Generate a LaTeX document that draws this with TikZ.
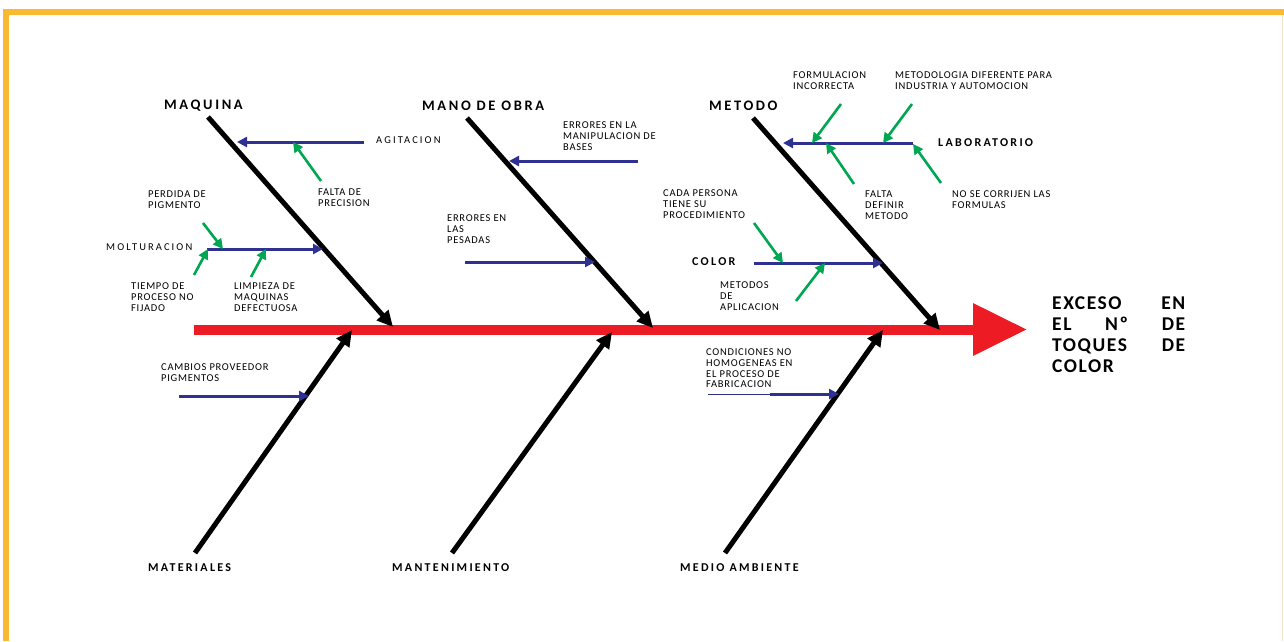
\documentclass[tikz,border=0pt]{standalone}
\usepackage{fontspec}
\setmainfont{Carlito}
\newfontfamily\smallf[LetterSpace=7]{Carlito}
\newfontfamily\widef[LetterSpace=20]{Carlito}
\newfontfamily\catf[LetterSpace=18]{Carlito Bold}
\newfontfamily\subcatf[LetterSpace=19]{Carlito Bold}
\newfontfamily\titlef[LetterSpace=8]{Carlito Bold}
\usetikzlibrary{arrows.meta}
\definecolor{fbred}{RGB}{237,28,36}
\definecolor{fbnavy}{RGB}{46,49,146}
\definecolor{fbgreen}{RGB}{0,166,81}
\definecolor{fborange}{RGB}{251,185,51}
\definecolor{fbedge}{RGB}{240,228,205}
\tikzset{
  spine/.style={draw=fbred,line width=10pt,-{Triangle[length=54pt,width=50pt]},fbred},
  bone/.style={draw=black,line width=5pt,-{Triangle[length=16pt,width=15pt]}},
  cause/.style={draw=fbnavy,line width=3pt,-{Triangle[length=10pt,width=10pt]}},
  thincause/.style={draw=fbnavy,line width=1pt},
  subcause/.style={draw=fbgreen,line width=2.6pt,-{Triangle[length=10pt,width=10pt]}},
  lbl/.style={anchor=north west,inner sep=0pt,align=left,font=\smallf\fontsize{10.5}{10.8}\selectfont},
  widelbl/.style={anchor=north west,inner sep=0pt,font=\widef\fontsize{10.5}{10.8}\selectfont},
  catlbl/.style={anchor=north west,inner sep=0pt,font=\catf\fontsize{14.5}{16}\selectfont},
  subcatlbl/.style={anchor=north west,inner sep=0pt,font=\subcatf\fontsize{12}{14}\selectfont},
  titlelbl/.style={anchor=north west,inner sep=0pt,align=left,font=\titlef\fontsize{19.5}{21}\selectfont}
}
\begin{document}
\begin{tikzpicture}[x=1pt,y=-1pt]
\useasboundingbox (0,0) rectangle (1284,641);
% frame
\fill[fborange] (3,9) rectangle (1284,15);
\fill[fborange] (3,9) rectangle (9,641);
\draw[fbedge,line width=1pt] (1282,15) -- (1282,641);
% coordinates
\coordinate (sp0) at (194,329.5);
\coordinate (sp1) at (1027,329.5);
\coordinate (b1s) at (208,117); \coordinate (b1e) at (393,327);
\coordinate (b2s) at (467,118); \coordinate (b2e) at (653,328);
\coordinate (b3s) at (753,118); \coordinate (b3e) at (940,330);
\coordinate (b4s) at (195,553); \coordinate (b4e) at (352,330);
\coordinate (b5s) at (452,553); \coordinate (b5e) at (612,332);
\coordinate (b6s) at (725,553); \coordinate (b6e) at (883,330);
\coordinate (c1s) at (364,142); \coordinate (c1e) at (237,142);
\coordinate (c2s) at (207,249); \coordinate (c2e) at (323,249);
\coordinate (c3s) at (638,161); \coordinate (c3e) at (509,161);
\coordinate (c4s) at (465,262); \coordinate (c4e) at (595,262);
\coordinate (c5s) at (913,143); \coordinate (c5e) at (783,143);
\coordinate (c6s) at (754,263); \coordinate (c6e) at (883,263);
\coordinate (c7s) at (179,396); \coordinate (c7e) at (309,396);
\coordinate (c8s) at (708,394); \coordinate (c8m) at (770,394); \coordinate (c8e) at (839,394);
\coordinate (g1s) at (321,181); \coordinate (g1e) at (293,142);
\coordinate (g2s) at (203,223); \coordinate (g2e) at (223,249);
\coordinate (g3s) at (194,275); \coordinate (g3e) at (208,249);
\coordinate (g4s) at (251,277); \coordinate (g4e) at (266,249);
\coordinate (g5s) at (841,104); \coordinate (g5e) at (812,143);
\coordinate (g6s) at (912,104); \coordinate (g6e) at (883,143);
\coordinate (g7s) at (854,184); \coordinate (g7e) at (826,143);
\coordinate (g8s) at (941,183); \coordinate (g8e) at (913,144);
\coordinate (g9s) at (754,223); \coordinate (g9e) at (783,263);
\coordinate (g10s) at (796,301); \coordinate (g10e) at (825,263);
% spine
\draw[spine] (sp0) -- (sp1);
% bones
\draw[bone] (b1s) -- (b1e);
\draw[bone] (b2s) -- (b2e);
\draw[bone] (b3s) -- (b3e);
\draw[bone] (b4s) -- (b4e);
\draw[bone] (b5s) -- (b5e);
\draw[bone] (b6s) -- (b6e);
% causes
\draw[cause] (c1s) -- (c1e);
\draw[cause] (c2s) -- (c2e);
\draw[cause] (c3s) -- (c3e);
\draw[cause] (c4s) -- (c4e);
\draw[cause] (c5s) -- (c5e);
\draw[cause] (c6s) -- (c6e);
\draw[cause] (c7s) -- (c7e);
\draw[thincause] (c8s) -- (c8m);
\draw[cause] (c8m) -- (c8e);
% sub-causes
\draw[subcause] (g1s) -- (g1e);
\draw[subcause] (g2s) -- (g2e);
\draw[subcause] (g3s) -- (g3e);
\draw[subcause] (g4s) -- (g4e);
\draw[subcause] (g5s) -- (g5e);
\draw[subcause] (g6s) -- (g6e);
\draw[subcause] (g7s) -- (g7e);
\draw[subcause] (g8s) -- (g8e);
\draw[subcause] (g9s) -- (g9e);
\draw[subcause] (g10s) -- (g10e);
% category labels
\node[catlbl] (tmaq) at (164,100) {MAQUINA};
\node[catlbl] (tmano) at (422,100.5) {MANO DE OBRA};
\node[catlbl] (tmet) at (709,100.5) {METODO};
\node[subcatlbl] (tmat) at (148,563) {MATERIALES};
\node[subcatlbl] (tmant) at (392,563) {MANTENIMIENTO};
\node[subcatlbl] (tmed) at (680,563) {MEDIO AMBIENTE};
\node[subcatlbl] (tlab) at (938,138) {LABORATORIO};
\node[subcatlbl] (tcol) at (692,257) {COLOR};
% effect
\node[titlelbl] (teff) at (1052,297) {\makebox[133pt]{EXCESO\hfill EN}\\\makebox[133pt]{EL\hfill Nº\hfill DE}\\\makebox[133pt]{TOQUES\hfill DE}\\COLOR};
% cause labels
\node[widelbl] (tagi) at (376,136.5) {AGITACION};
\node[widelbl] (tmol) at (106,243.5) {MOLTURACION};
\node[lbl] (tfpre) at (318,188.5) {FALTA DE\\PRECISION};
\node[lbl] (tperd) at (148,190.5) {PERDIDA DE\\PIGMENTO};
\node[lbl] (ttiem) at (131,282.5) {TIEMPO DE\\PROCESO NO\\FIJADO};
\node[lbl] (tlimp) at (234,282.5) {LIMPIEZA DE\\MAQUINAS\\DEFECTUOSA};
\node[lbl] (terrm) at (563,121.5) {ERRORES EN LA\\MANIPULACION DE\\BASES};
\node[lbl] (terrp) at (447,214.5) {ERRORES EN\\LAS\\PESADAS};
\node[lbl] (tform) at (793,71.5) {FORMULACION\\INCORRECTA};
\node[lbl] (tmetd) at (895,71.5) {METODOLOGIA DIFERENTE PARA\\INDUSTRIA Y AUTOMOCION};
\node[lbl] (tfdef) at (865,190.5) {FALTA\\DEFINIR\\METODO};
\node[lbl] (tnose) at (952,190.5) {NO SE CORRIJEN LAS\\FORMULAS};
\node[lbl] (tcada) at (663,189.5) {CADA PERSONA\\TIENE SU\\PROCEDIMIENTO};
\node[lbl] (tmapl) at (720,281.5) {METODOS\\DE\\APLICACION};
\node[lbl] (tcamb) at (161,363.5) {CAMBIOS PROVEEDOR\\PIGMENTOS};
\node[lbl] (tcond) at (706,348.5) {CONDICIONES NO\\HOMOGENEAS EN\\EL PROCESO DE\\FABRICACION};
\end{tikzpicture}
\end{document}
